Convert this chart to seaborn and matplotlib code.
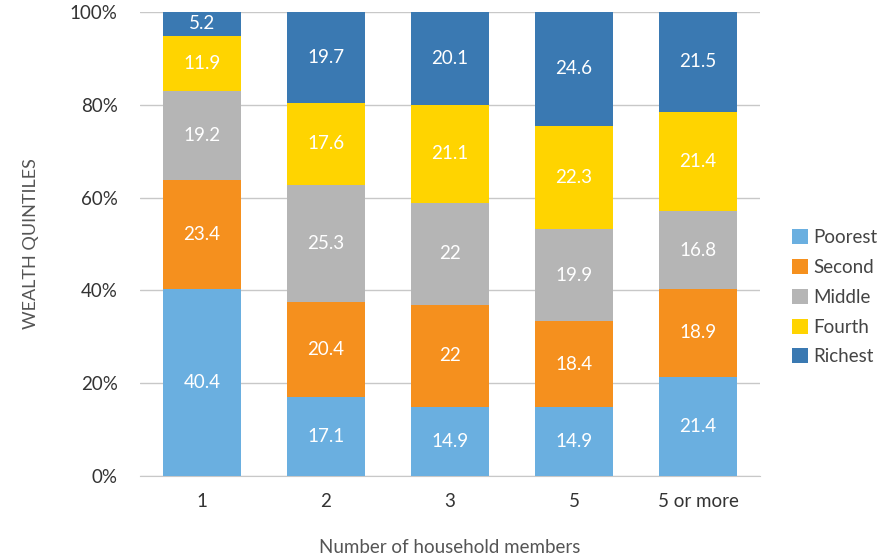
import matplotlib
matplotlib.use('Agg')
import matplotlib.pyplot as plt
import seaborn as sns

# household size categories
members = ['1', '2', '3', '5', '5 or more']

# wealth quintile shares (%) per household size
poorest = [40.4, 17.1, 14.9, 14.9, 21.4]
second = [23.4, 20.4, 22, 18.4, 18.9]
middle = [19.2, 25.3, 22, 19.9, 16.8]
fourth = [11.9, 17.6, 21.1, 22.3, 21.4]
richest = [5.2, 19.7, 20.1, 24.6, 21.5]

quintiles = ['Poorest', 'Second', 'Middle', 'Fourth', 'Richest']
colors = ['#6AAFE0', '#F5901E', '#B5B5B5', '#FFD400', '#3A79B2']
y_ticks = [0, 20, 40, 60, 80, 100]

sns.set_style('white')
plt.rcParams['font.family'] = ['Lato', 'DejaVu Sans']

fig = plt.figure(figsize=(8.82, 5.6), dpi=100)
ax = fig.add_axes([0.1587, 0.15, 0.703, 0.8286])

## stack the bars one quintile at a time
bottom = [0] * len(members)
for name, vals, c in zip(quintiles, [poorest, second, middle, fourth, richest], colors):
    sns.barplot(x=members, y=vals, bottom=bottom, color=c, width=0.63,
                label=name, ax=ax, saturation=1, linewidth=0, zorder=3)
    bottom = [b + v for b, v in zip(bottom, vals)]

for cont, vals in zip(ax.containers, [poorest, second, middle, fourth, richest]):
    ax.bar_label(cont, labels=['{:g}'.format(v) for v in vals], label_type='center',
                 color='white', fontsize=13.5)

ax.set_ylim(0, 100)
ax.set_xlim(-0.5, len(members) - 0.5)
ax.set_yticks(y_ticks)
ax.set_yticklabels(['{}%'.format(t) for t in y_ticks])
ax.yaxis.grid(True, color='#C8C8C8', linewidth=1, zorder=0)
ax.set_axisbelow(True)
for s in ['top', 'right', 'left']:
    ax.spines[s].set_visible(False)
ax.spines['bottom'].set_color('#C8C8C8')
ax.tick_params(axis='both', length=0, labelsize=13.5, colors='#333333')
ax.tick_params(axis='y', pad=16)
ax.tick_params(axis='x', pad=12)

ax.set_xlabel('Number of household members', fontsize=13.5, color='#555555')
ax.xaxis.set_label_coords(0.5, -0.135)
ax.set_ylabel('WEALTH QUINTILES', fontsize=13, color='#555555')
ax.yaxis.set_label_coords(-0.163, 0.5)

leg = ax.legend(loc='center left', bbox_to_anchor=(1.025, 0.385), frameon=False,
                fontsize=13.5, handlelength=0.85, handleheight=0.85, handletextpad=0.25,
                labelspacing=0.68, labelcolor='#444444')

fig.savefig('out.png', dpi=100)
